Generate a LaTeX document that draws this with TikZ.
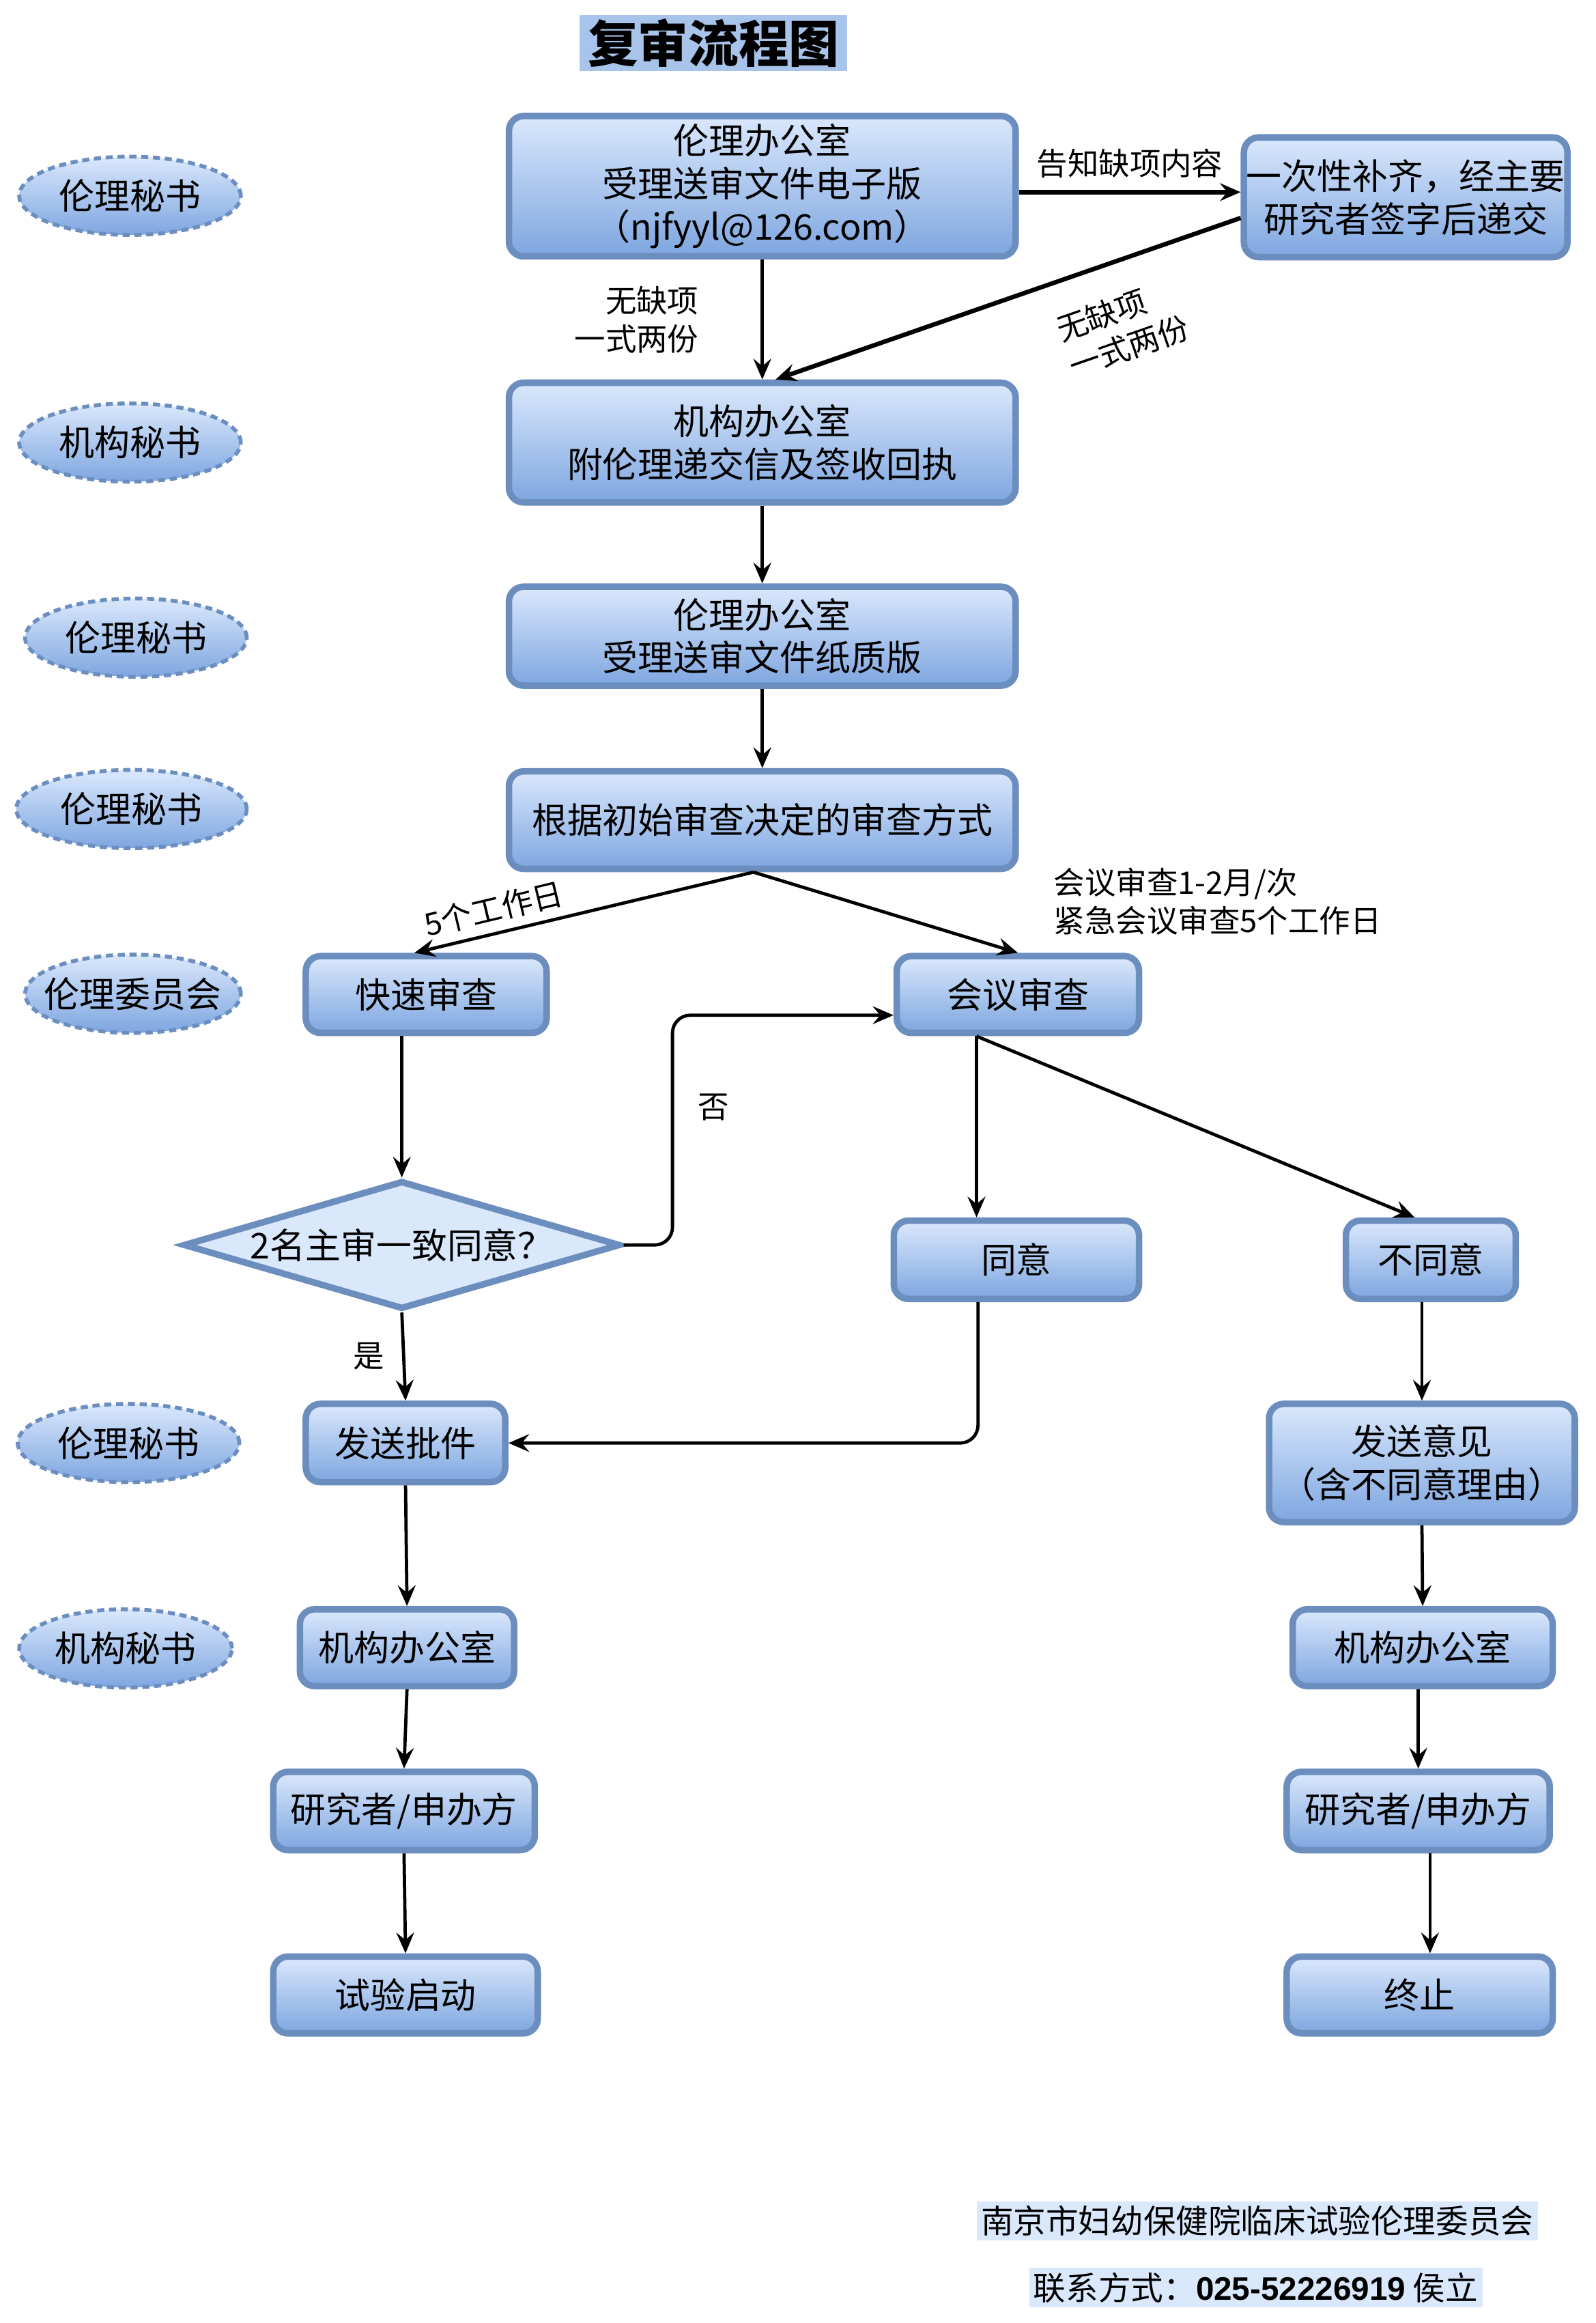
\documentclass[tikz,border=0pt]{standalone}
\usepackage{fontspec}
\setmainfont{Noto Sans CJK SC}
\newfontfamily\latinsans{Liberation Sans}
\usetikzlibrary{arrows.meta, shapes.geometric}

\definecolor{boxtop}{HTML}{DAE8FC}
\definecolor{boxbot}{HTML}{7EA6E0}
\definecolor{boxline}{HTML}{6C8EBF}
\definecolor{titlefill}{HTML}{A9C4EB}

\tikzset{
  procbox/.style={draw=boxline, line width=2.2pt, rounded corners=5pt,
    top color=boxtop, bottom color=boxbot, align=center, inner sep=0pt,
    font=\fontsize{12}{14.5}\selectfont},
  rolebox/.style={ellipse, draw=boxline, line width=1.3pt, dash pattern=on 2.4pt off 1.6pt,
    top color=boxtop, bottom color=boxbot, minimum width=75pt, minimum height=26.5pt,
    inner sep=0pt, font=\fontsize{12}{14}\selectfont},
  flow/.style={-{Stealth[length=7pt, width=6pt, inset=2.5pt]}, line width=1.1pt},
  boldflow/.style={flow, line width=1.5pt},
  lbl/.style={font=\fontsize{10.5}{13}\selectfont, align=center, inner sep=1pt}
}

\begin{document}
\begin{tikzpicture}[x=0.5pt, y=-0.5pt]
    \useasboundingbox (0,0) rectangle (1080,1572);

    % Title
    \node[fill=titlefill, minimum width=90.5pt, minimum height=19pt, inner sep=0pt,
      font=\fontsize{17}{19}\selectfont\bfseries] (title) at (483,29) {复审流程图};

    % Roles on the left
    \node[rolebox] (role1) at (88,132.5) {伦理秘书};
    \node[rolebox] (role2) at (88,299.5) {机构秘书};
    \node[rolebox] (role3) at (92,431.5) {伦理秘书};
    \node[rolebox, minimum width=78pt] (role4) at (89,547.5) {伦理秘书};
    \node[rolebox, minimum width=73pt, inner xsep=-6pt] (role5) at (90,672.5) {伦理委员会};
    \node[rolebox] (role6) at (87,976.5) {伦理秘书};
    \node[rolebox, minimum width=72pt] (role7) at (85,1115.5) {机构秘书};

    % Main column
    \node[procbox, minimum width=171.5pt, minimum height=47.5pt] (office1) at (516,126)
      {伦理办公室\\受理送审文件电子版\\（njfyyl@126.com）};
    \node[procbox, minimum width=109.5pt, minimum height=40.5pt] (fix) at (951.5,133.5)
      {一次性补齐，经主要\\研究者签字后递交};
    \node[procbox, minimum width=171.5pt, minimum height=40.5pt] (inst1) at (516,299.5)
      {机构办公室\\附伦理递交信及签收回执};
    \node[procbox, minimum width=171.5pt, minimum height=33.5pt] (office2) at (516,430.5)
      {伦理办公室\\受理送审文件纸质版};
    \node[procbox, minimum width=171.5pt, minimum height=33pt] (decide) at (516,555)
      {根据初始审查决定的审查方式};

    % Review types
    \node[procbox, minimum width=81.5pt, minimum height=26pt] (fast) at (288.5,673) {快速审查};
    \node[procbox, minimum width=82pt, minimum height=26pt] (meet) at (689,673) {会议审查};
    \node[diamond, draw=boxline, line width=2.2pt, fill=boxtop, aspect=3.3, inner sep=0pt,
      minimum width=148pt, minimum height=43.5pt, font=\fontsize{12}{14}\selectfont]
      (agreeq) at (272,842.5) {2名主审一致同意？};
    \node[procbox, minimum width=83pt, minimum height=26.5pt] (agree) at (688,852.5) {同意};
    \node[procbox, minimum width=57.5pt, minimum height=26.5pt] (reject) at (968.5,852.5) {不同意};

    % Outcomes
    \node[procbox, minimum width=67.5pt, minimum height=26.5pt] (send) at (274.5,976.5) {发送批件};
    \node[procbox, minimum width=103.5pt, minimum height=40pt] (opinion) at (962.5,990)
      {发送意见\\（含不同意理由）};
    \node[procbox, minimum width=72.5pt, minimum height=26pt] (instL) at (275.5,1115) {机构办公室};
    \node[procbox, minimum width=88.5pt, minimum height=26.5pt] (resL) at (273.5,1225.5) {研究者/申办方};
    \node[procbox, minimum width=89.5pt, minimum height=26pt] (start) at (274.5,1350) {试验启动};
    \node[procbox, minimum width=88pt, minimum height=26pt] (instR) at (963,1115) {机构办公室};
    \node[procbox, minimum width=89pt, minimum height=26.5pt] (resR) at (960,1225.5) {研究者/申办方};
    \node[procbox, minimum width=90pt, minimum height=26pt] (stop) at (961,1350) {终止};

    % Connectors
    \draw[boldflow] ([yshift=-2pt]office1.east) -- ([yshift=-2pt]office1.east -| fix.west)
      node[lbl, midway, above=3pt] {告知缺项内容};
    \draw[flow] (office1.south) -- (inst1.north)
      node[lbl, midway, left=20pt, align=right] {无缺项\\一式两份};
    \draw[boldflow] ([yshift=-7pt]fix.west) -- ([xshift=4.5pt]inst1.north)
      node[lbl, pos=0.3, sloped, below=9pt, align=left] {无缺项\\一式两份};
    \draw[flow] (inst1.south) -- (office2.north);
    \draw[flow] (office2.south) -- (decide.north);
    \draw[flow] ([xshift=-3pt]decide.south) -- ([xshift=-4pt]fast.north)
      node[lbl, pos=0.75, sloped, above=2pt] {5个工作日};
    \draw[flow] ([xshift=-3pt]decide.south) -- (meet.north);
    \node[lbl, align=left, anchor=west] (meetnote) at (711,610)
      {会议审查1-2月/次\\紧急会议审查5个工作日};
    \draw[flow] (agreeq.north |- fast.south) -- (agreeq.north);
    \draw[flow, rounded corners=6pt] (agreeq.east) -- ++(33,0) |- ([yshift=-7pt]meet.west)
      node[lbl, pos=0.3, right=7pt] {否};
    \draw[flow] ([xshift=-14pt]meet.south) -- ([xshift=-13.5pt]agree.north);
    \draw[flow] ([xshift=-14pt]meet.south) -- ([xshift=-5.5pt]reject.north);
    \draw[flow] (agreeq.south) -- (send.north)
      node[lbl, midway, left=5pt] {是};
    \draw[flow, rounded corners=6pt] ([xshift=-13pt]agree.south) |- (send.east);
    \draw[flow] (opinion.north |- reject.south) -- (opinion.north);
    \draw[flow] (send.south) -- (instL.north);
    \draw[flow] (instL.south) -- (resL.north);
    \draw[flow] (resL.south) -- (start.north);
    \draw[flow] (opinion.south) -- (instR.north);
    \draw[flow] (instR.south -| resR.north) -- (resR.north);
    \draw[flow] ([xshift=4pt]resR.south) -- ([xshift=4pt]resR.south |- stop.north);

    % Footer
    \node[fill=boxtop, inner sep=1.5pt, font=\fontsize{11}{13}\selectfont] (hosp) at (851,1503)
      {南京市妇幼保健院临床试验伦理委员会};
    \node[fill=boxtop, inner sep=1.5pt, font=\fontsize{11}{13}\selectfont] (contact) at (850,1548)
      {联系方式：{\latinsans\bfseries 025-52226919} 侯立};
\end{tikzpicture}
\end{document}
